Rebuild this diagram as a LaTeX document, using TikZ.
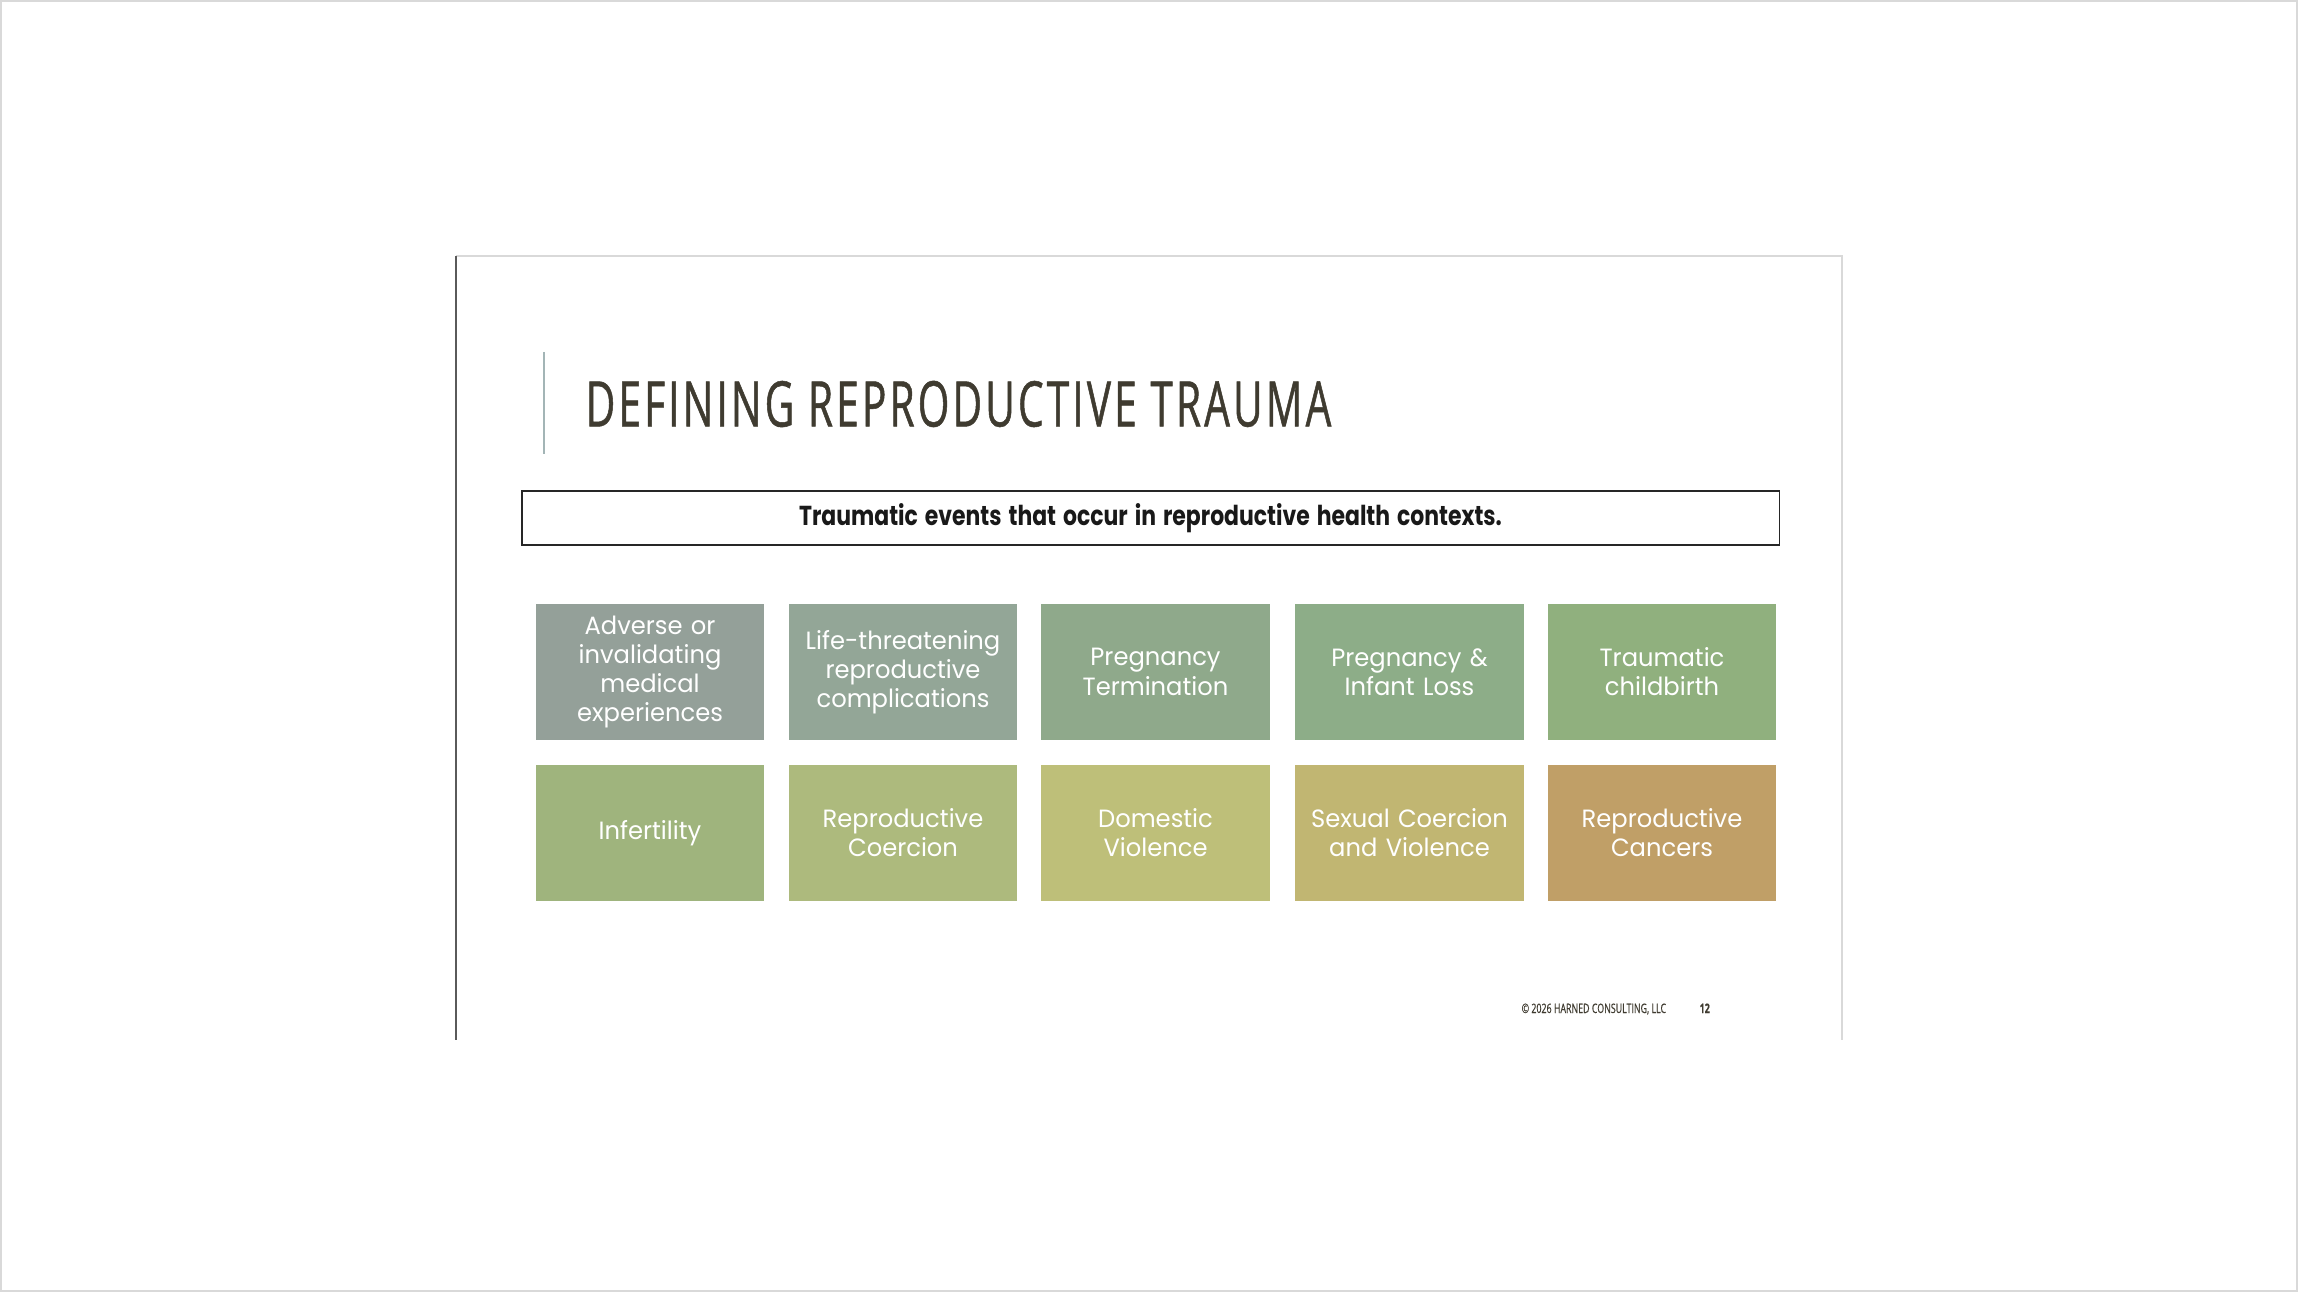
\documentclass[tikz,border=0pt]{standalone}
\usepackage{fontspec}
\setmainfont{Poppins}
\newfontfamily\titlefont[FakeStretch=0.645, LetterSpace=5, FakeBold=0.8]{Open Sans}
\newfontfamily\footfont[FakeStretch=0.68, FakeBold=0.6]{Open Sans}
\newfontfamily\boxfont[FakeStretch=0.97]{Poppins}
\newfontfamily\leadfont[FakeStretch=0.8, WordSpace=1.5]{Poppins}

\definecolor{titleink}{HTML}{3F3B30}
\definecolor{accentbar}{HTML}{A3B5B6}
\definecolor{frameline}{HTML}{D9D9D9}
\definecolor{slideedge}{HTML}{5A5A5A}
\definecolor{cAdverse}{HTML}{94A099}
\definecolor{cLife}{HTML}{93A697}
\definecolor{cTermination}{HTML}{8FA98B}
\definecolor{cLoss}{HTML}{8DAD88}
\definecolor{cChildbirth}{HTML}{90B07E}
\definecolor{cInfertility}{HTML}{9FB47D}
\definecolor{cRepCoercion}{HTML}{ADBA7D}
\definecolor{cDomestic}{HTML}{BEBF79}
\definecolor{cSexual}{HTML}{C1B672}
\definecolor{cCancers}{HTML}{C09F67}

\begin{document}
\begin{tikzpicture}[x=0.01cm, y=-0.01cm, every node/.style={inner sep=0pt},
	trauma/.style={minimum width=2.28cm, minimum height=1.36cm, text width=2.2cm, align=center,
		text=white, font=\boxfont\fontsize{7.1}{8.3}\selectfont}]
	\useasboundingbox (0,0) rectangle (2298,1292);
	% page and slide frame
	\draw[frameline, line width=0.6pt] (1,1) rectangle (2297,1291);
	\draw[frameline, line width=0.5pt] (456,256) -- (1842,256) -- (1842,1040);
	\draw[slideedge, line width=0.6pt] (456,256) -- (456,1040);
	% title
	\draw[accentbar, line width=0.6pt] (544,352) -- (544,454);
	\node[anchor=base west, text=titleink, font=\titlefont\fontsize{17.9}{20}\selectfont] (title) at (585,426.5) {DEFINING REPRODUCTIVE TRAUMA};
	\node[draw=black!85, line width=0.5pt, minimum width=12.57cm, minimum height=0.54cm,
		font=\leadfont\bfseries\fontsize{7.8}{9}\selectfont, text=black!90] (lead) at (1150.5,518) {Traumatic events that occur in reproductive health contexts.};
	% first row
	\node[trauma, fill=cAdverse] (adverse) at (650,672) {Adverse or\\invalidating\\medical\\experiences};
	\node[trauma, fill=cLife] (life) at (903,672) {Life-threatening\\reproductive\\complications};
	\node[trauma, fill=cTermination] (termination) at (1155.5,672) {Pregnancy\\Termination};
	\node[trauma, fill=cLoss] (loss) at (1409.5,672) {Pregnancy \&\\Infant Loss};
	\node[trauma, fill=cChildbirth] (childbirth) at (1662,672) {Traumatic\\childbirth};
	% second row
	\node[trauma, fill=cInfertility] (infertility) at (650,833) {Infertility};
	\node[trauma, fill=cRepCoercion] (repcoercion) at (903,833) {Reproductive\\Coercion};
	\node[trauma, fill=cDomestic] (domestic) at (1155.5,833) {Domestic\\Violence};
	\node[trauma, fill=cSexual] (sexual) at (1409.5,833) {Sexual Coercion\\and Violence};
	\node[trauma, fill=cCancers] (cancers) at (1662,833) {Reproductive\\Cancers};
	% footer
	\node[anchor=base west, text=titleink, font=\footfont\fontsize{3.7}{4}\selectfont] (copyright) at (1521,1013) {© 2026 HARNED CONSULTING, LLC};
	\node[anchor=base west, text=titleink, font=\footfont\bfseries\fontsize{3.7}{4}\selectfont] (pagenum) at (1699,1013) {12};
\end{tikzpicture}
\end{document}
